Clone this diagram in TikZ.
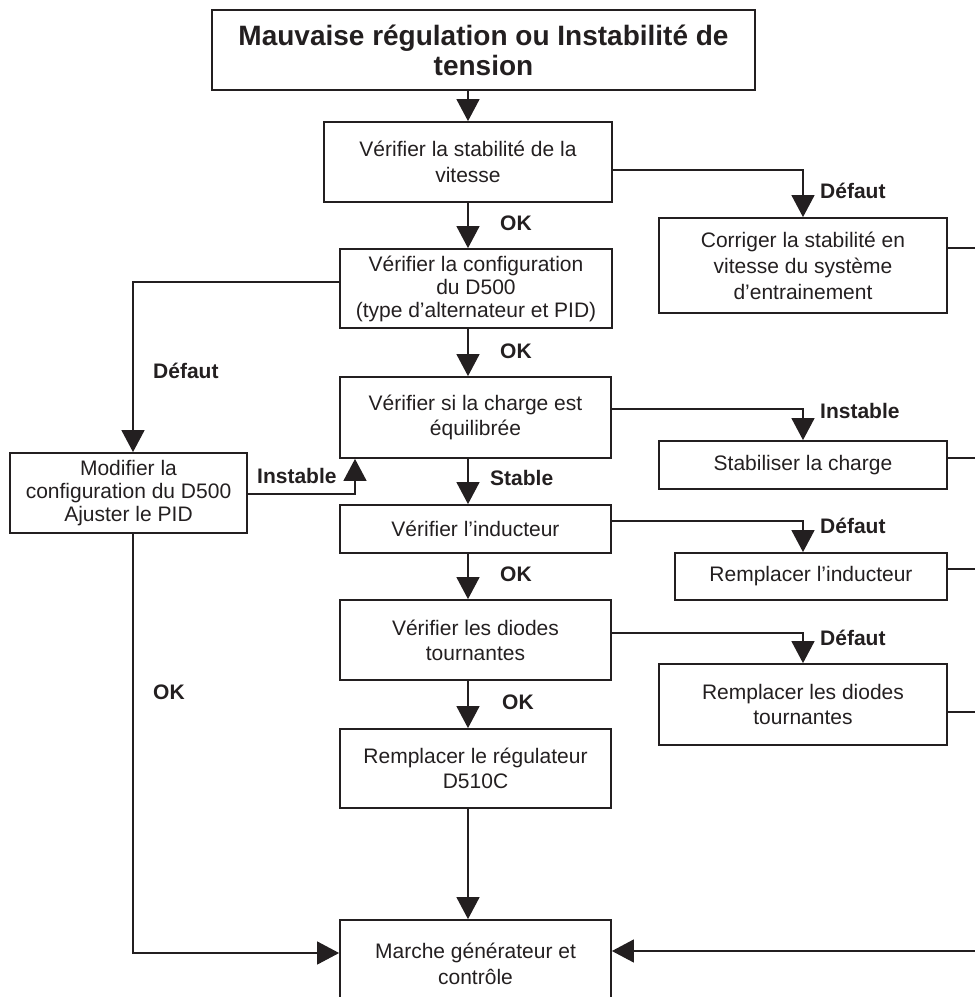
\documentclass[tikz,border=0pt]{standalone}
\usepackage{fontspec}
\setmainfont{Liberation Sans}
\usetikzlibrary{arrows.meta}
\definecolor{ink}{HTML}{231F20}
\begin{document}
\begin{tikzpicture}[x=1pt,y=-1pt,
  box/.style={draw=ink, line width=1.8pt, rectangle, inner sep=0pt, align=center,
    font=\fontsize{21}{25}\selectfont, text=ink},
  conn/.style={draw=ink, line width=1.4pt},
  arr/.style={conn, -{Triangle[length=22pt,width=23pt]}},
  lab/.style={anchor=base west, inner sep=0pt, font=\bfseries\fontsize{21}{25}\selectfont, text=ink}]
\path[use as bounding box] (0,0) rectangle (975,997);
\clip (0,0) rectangle (975,997);

% nodes
\node[box, minimum width=543pt, minimum height=80pt, line width=2.6pt,
  font=\bfseries\fontsize{28}{30}\selectfont] (title) at (483.5,50)
  {Mauvaise régulation ou Instabilité de\\tension};
\node[box, minimum width=288pt, minimum height=80pt, font=\fontsize{21}{26}\selectfont] (b1) at (468,162)
  {Vérifier la stabilité de la\\vitesse};
\node[box, minimum width=272pt, minimum height=79pt, font=\fontsize{21}{23}\selectfont] (b2) at (476,288.5)
  {Vérifier la configuration\\du D500\\(type d\symbol{39}alternateur et PID)};
\node[box, minimum width=271pt, minimum height=81pt] (b3) at (475.5,417.5)
  {Vérifier si la charge est\\équilibrée};
\node[box, minimum width=271pt, minimum height=48pt] (b4) at (475.5,529)
  {Vérifier l’inducteur};
\node[box, minimum width=271pt, minimum height=80pt] (b5) at (475.5,640)
  {Vérifier les diodes\\tournantes};
\node[box, minimum width=271pt, minimum height=79pt] (b6) at (475.5,768.5)
  {Remplacer le régulateur\\D510C};
\node[box, minimum width=271pt, minimum height=88pt, font=\fontsize{21}{26}\selectfont] (b7) at (475.5,964)
  {Marche générateur et\\contrôle};
\node[box, minimum width=237pt, minimum height=80pt, font=\fontsize{21}{23}\selectfont] (mod) at (128.5,493)
  {Modifier la\\configuration du D500\\Ajuster le PID};
\node[box, minimum width=288pt, minimum height=95pt, font=\fontsize{21}{26}\selectfont] (r1) at (803,265.5)
  {Corriger la stabilité en\\vitesse du système\\d’entrainement};
\node[box, minimum width=288pt, minimum height=48pt] (r2) at (803,465)
  {Stabiliser la charge};
\node[box, minimum width=272pt, minimum height=47pt] (r3) at (811,576.5)
  {Remplacer l’inducteur};
\node[box, minimum width=288pt, minimum height=81pt] (r4) at (803,704.5)
  {Remplacer les diodes\\tournantes};

% free ends at the right edge
\coordinate (e1) at (975,248);
\coordinate (e2) at (975,458);
\coordinate (e3) at (975,569);
\coordinate (e4) at (975,712);
\coordinate (e5) at (975,951);

% main column
\draw[arr] (b1.north |- title.south) -- (b1.north);
\draw[arr] (b1.south) -- (b1.south |- b2.north);
\draw[arr] (468,0 |- b2.south) -- (468,0 |- b3.north);
\draw[arr] (468,0 |- b3.south) -- (468,0 |- b4.north);
\draw[arr] (468,0 |- b4.south) -- (468,0 |- b5.north);
\draw[arr] (468,0 |- b5.south) -- (468,0 |- b6.north);
\draw[arr] (468,0 |- b6.south) -- (468,0 |- b7.north);

% branches to the right
\draw[arr] (b1.east |- 0,170) -| (r1.north);
\draw[arr] (b3.east |- 0,409) -| (r2.north);
\draw[arr] (b4.east |- 0,521) -| (803,0 |- r3.north);
\draw[arr] (b5.east |- 0,633) -| (r4.north);

% returns on the right
\draw[conn] (r1.east |- e1) -- (e1);
\draw[conn] (r2.east |- e2) -- (e2);
\draw[conn] (r3.east |- e3) -- (e3);
\draw[conn] (r4.east |- e4) -- (e4);
\draw[arr] (e5) -- (b7.east |- e5);

% left loop
\draw[arr] (b2.west |- 0,282) -| (133,0 |- mod.north);
\draw[arr] (mod.east |- 0,494) -| (355,0 |- b3.south);
\draw[arr] (133,0 |- mod.south) |- (b7.west |- 0,953);

% labels
\node[lab] (l1) at (500,230) {OK};
\node[lab] (l2) at (820,198) {Défaut};
\node[lab] (l3) at (500,358) {OK};
\node[lab] (l4) at (820,418) {Instable};
\node[lab] (l5) at (490,485) {Stable};
\node[lab] (l6) at (820,533) {Défaut};
\node[lab] (l7) at (500,581) {OK};
\node[lab] (l8) at (820,645) {Défaut};
\node[lab] (l9) at (502,709) {OK};
\node[lab] (l10) at (153,378) {Défaut};
\node[lab] (l11) at (257,483) {Instable};
\node[lab] (l12) at (153,699) {OK};
\end{tikzpicture}
\end{document}
